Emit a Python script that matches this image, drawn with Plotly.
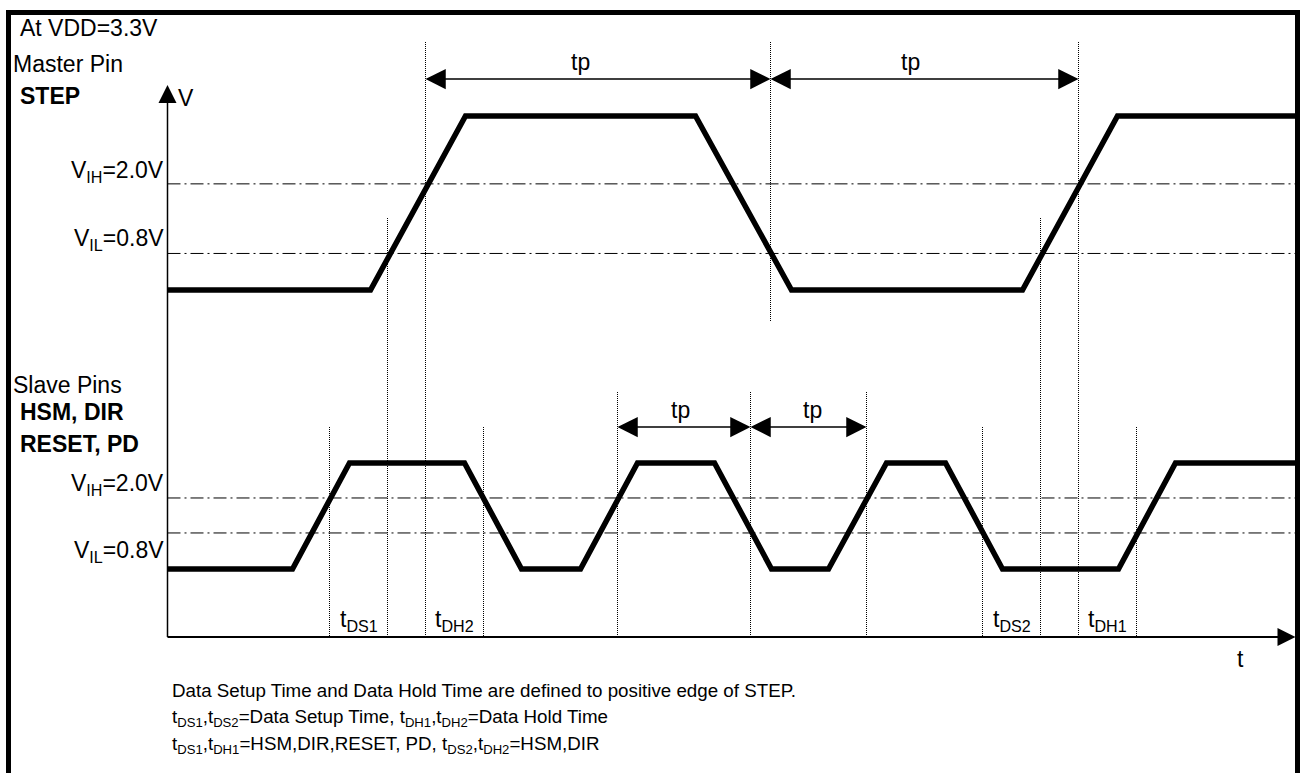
import plotly.graph_objects as go

W, H = 1302, 773

# ---------------- data (time in ns-like units, t=0 at the V axis) ----------------
step_t = [0, 203, 298, 528, 624, 855, 950, 1128]
step_lv = [0, 0, 1, 1, 0, 0, 1, 1]

slave_t = [0, 125, 182, 297, 354, 413, 470, 547, 604, 661, 719, 778, 835, 951, 1008, 1128]
slave_lv = [0, 0, 1, 1, 0, 0, 1, 1, 0, 0, 1, 1, 0, 0, 1, 1]

# threshold levels (fraction of swing)
step_vih, step_vil = 0.61, 0.21
slave_vih, slave_vil = 0.67, 0.34

# event times (dotted markers)
t_step_vil_r1, t_step_vih_r1 = 220, 258
t_step_vil_f1 = 603
t_step_vil_r2, t_step_vih_r2 = 873, 911
t_ds1_start, t_dh2_end = 162, 316
t_ds2_start, t_dh1_end = 815, 969
t_slave_tp = [450, 583, 699]
t_end = 1128

tp_top = [(t_step_vih_r1, t_step_vil_f1), (t_step_vil_f1, t_step_vih_r2)]
tp_mid = [(t_slave_tp[0], t_slave_tp[1]), (t_slave_tp[1], t_slave_tp[2])]
tp_top_label_t = [413, 743]
tp_mid_label_t = [513, 645]

FONT = "Liberation Sans, Arial, sans-serif"
LBL = 23
NOTE = 18.75

# ---------------- helpers for layout ----------------
X0 = 167.5  # pixel of t=0 (centre of a pixel column)


def pyp(py):
    return 1 - py / H


def pxp(px):
    return px / W


def domain_for(px_low, px_high, lo, hi):
    unit = px_low - px_high
    top_px = px_low - hi * unit
    bot_px = px_low - lo * unit
    return [pyp(bot_px), pyp(top_px)]


def lvl(px, px_low, px_high):
    return (px_low - px) / (px_low - px_high)


S_LOW, S_HIGH = 290, 116
L_LOW, L_HIGH = 569, 463
S_RANGE = [-0.4, 1.35]
L_RANGE = [-0.8, 1.7]

fig = go.Figure()

fig.add_trace(go.Scatter(x=step_t, y=step_lv, mode="lines", xaxis="x", yaxis="y",
                         line=dict(color="black", width=5.5), hoverinfo="skip", showlegend=False))
fig.add_trace(go.Scatter(x=slave_t, y=slave_lv, mode="lines", xaxis="x", yaxis="y2",
                         line=dict(color="black", width=5.5), hoverinfo="skip", showlegend=False))

shapes = []
DASHDOT = "13px,4px,2px,4px"
for yref, lv in (("y", step_vih), ("y", step_vil), ("y2", slave_vih), ("y2", slave_vil)):
    shapes.append(dict(type="line", xref="x", yref=yref, x0=0, x1=t_end, y0=lv, y1=lv,
                       line=dict(color="black", width=1, dash=DASHDOT), layer="below"))

DOT = "1px,1px"


def vdot(t, py0, py1):
    shapes.append(dict(type="line", xref="x", yref="paper", x0=t, x1=t, y0=pyp(py0), y1=pyp(py1),
                       line=dict(color="black", width=1, dash=DOT), layer="below"))


vdot(t_step_vil_r1, 218, 637)
vdot(t_step_vih_r1, 42, 637)
vdot(t_step_vil_f1, 42, 322)
vdot(t_step_vil_r2, 218, 637)
vdot(t_step_vih_r2, 42, 637)
for t in (t_ds1_start, t_dh2_end, t_ds2_start, t_dh1_end):
    vdot(t, 427, 637)
for t in t_slave_tp:
    vdot(t, 392, 637)

# frame (thick black border: left, top, right)
for (ax0, ax1, ay0, ay1) in ((6, 11, 10, H), (6, 1300, 10, 15), (1295, 1300, 10, H)):
    shapes.append(dict(type="rect", xref="paper", yref="paper",
                       x0=pxp(ax0), x1=pxp(ax1), y0=pyp(ay1), y1=pyp(ay0),
                       fillcolor="black", line=dict(width=0)))

ann = []

# axes arrows
ann.append(dict(x=0, y=lvl(85, S_LOW, S_HIGH), xref="x", yref="y",
                ax=0, ay=lvl(637, S_LOW, S_HIGH), axref="x", ayref="y",
                text="", showarrow=True, arrowhead=2, arrowsize=2.4, arrowwidth=1.5,
                arrowcolor="black", borderpad=0, borderwidth=0))
ann.append(dict(x=t_end, y=lvl(637, L_LOW, L_HIGH), xref="x", yref="y2",
                ax=0, ay=lvl(637, L_LOW, L_HIGH), axref="x", ayref="y2",
                text="", showarrow=True, arrowhead=2, arrowsize=1.8, arrowwidth=2,
                arrowcolor="black", borderpad=0, borderwidth=0))

# tp arrows
for (a, b), lt in zip(tp_top, tp_top_label_t):
    yl = lvl(79, S_LOW, S_HIGH)
    ann.append(dict(x=b, y=yl, xref="x", yref="y", ax=a, ay=yl, axref="x", ayref="y",
                    text="", showarrow=True, arrowside="end+start", arrowhead=2, startarrowhead=2,
                    arrowsize=2.7, startarrowsize=2.7, arrowwidth=1.5, arrowcolor="black",
                    borderpad=0, borderwidth=0))
    ann.append(dict(x=lt, y=lvl(62, S_LOW, S_HIGH), xref="x", yref="y", text="tp",
                    showarrow=False, font=dict(size=LBL, family=FONT, color="black")))
for (a, b), lt in zip(tp_mid, tp_mid_label_t):
    yl = lvl(427, L_LOW, L_HIGH)
    ann.append(dict(x=b, y=yl, xref="x", yref="y2", ax=a, ay=yl, axref="x", ayref="y2",
                    text="", showarrow=True, arrowside="end+start", arrowhead=2, startarrowhead=2,
                    arrowsize=2.7, startarrowsize=2.7, arrowwidth=1.5, arrowcolor="black",
                    borderpad=0, borderwidth=0))
    ann.append(dict(x=lt, y=lvl(410, L_LOW, L_HIGH), xref="x", yref="y2", text="tp",
                    showarrow=False, font=dict(size=LBL, family=FONT, color="black")))

# timing labels
for (a, b, txt) in ((t_ds1_start, t_step_vil_r1, "t<sub>DS1</sub>"),
                    (t_step_vih_r1, t_dh2_end, "t<sub>DH2</sub>"),
                    (t_ds2_start, t_step_vil_r2, "t<sub>DS2</sub>"),
                    (t_step_vih_r2, t_dh1_end, "t<sub>DH1</sub>")):
    ann.append(dict(x=(a + b) / 2, y=lvl(620, L_LOW, L_HIGH), xref="x", yref="y2", text=txt,
                    showarrow=False, font=dict(size=LBL, family=FONT, color="black")))


def label(px, py, txt, anchor="left", size=LBL):
    ann.append(dict(x=pxp(px), y=pyp(py), xref="paper", yref="paper", text=txt,
                    xanchor=anchor, yanchor="middle", showarrow=False,
                    font=dict(size=size, family=FONT, color="black")))


label(18, 28, "At VDD=3.3V")
label(11, 64, "Master Pin")
label(18, 96, "<b>STEP</b>")
label(176, 98, "V")
label(166, 172, "V<sub>IH</sub>=2.0V", "right")
label(166, 239, "V<sub>IL</sub>=0.8V", "right")
label(11, 385, "Slave Pins")
label(18, 412, "<b>HSM, DIR</b>")
label(18, 444, "<b>RESET, PD</b>")
label(166, 484, "V<sub>IH</sub>=2.0V", "right")
label(166, 551, "V<sub>IL</sub>=0.8V", "right")
label(1240, 659, "t", "center")

label(170, 690, "Data Setup Time and Data Hold Time are defined to positive edge of STEP.", size=NOTE)
label(170, 718, "t<sub>DS1</sub>,t<sub>DS2</sub>=Data Setup Time, t<sub>DH1</sub>,t<sub>DH2</sub>=Data Hold Time", size=NOTE)
label(170, 745, "t<sub>DS1</sub>,t<sub>DH1</sub>=HSM,DIR,RESET, PD, t<sub>DS2</sub>,t<sub>DH2</sub>=HSM,DIR", size=NOTE)

fig.update_layout(
    width=W, height=H,
    margin=dict(l=0, r=0, t=0, b=0),
    paper_bgcolor="white", plot_bgcolor="rgba(0,0,0,0)",
    xaxis=dict(range=[-X0, W - X0], visible=False, fixedrange=True),
    yaxis=dict(range=S_RANGE, domain=domain_for(S_LOW, S_HIGH, *S_RANGE), visible=False, fixedrange=True),
    yaxis2=dict(range=L_RANGE, domain=domain_for(L_LOW, L_HIGH, *L_RANGE), visible=False,
                fixedrange=True, anchor="x"),
    shapes=shapes, annotations=ann, showlegend=False,
    font=dict(family=FONT),
)

fig.write_html("out.html", config={"displayModeBar": False},
               post_script="document.body.style.margin='0';document.body.style.overflow='hidden';")
